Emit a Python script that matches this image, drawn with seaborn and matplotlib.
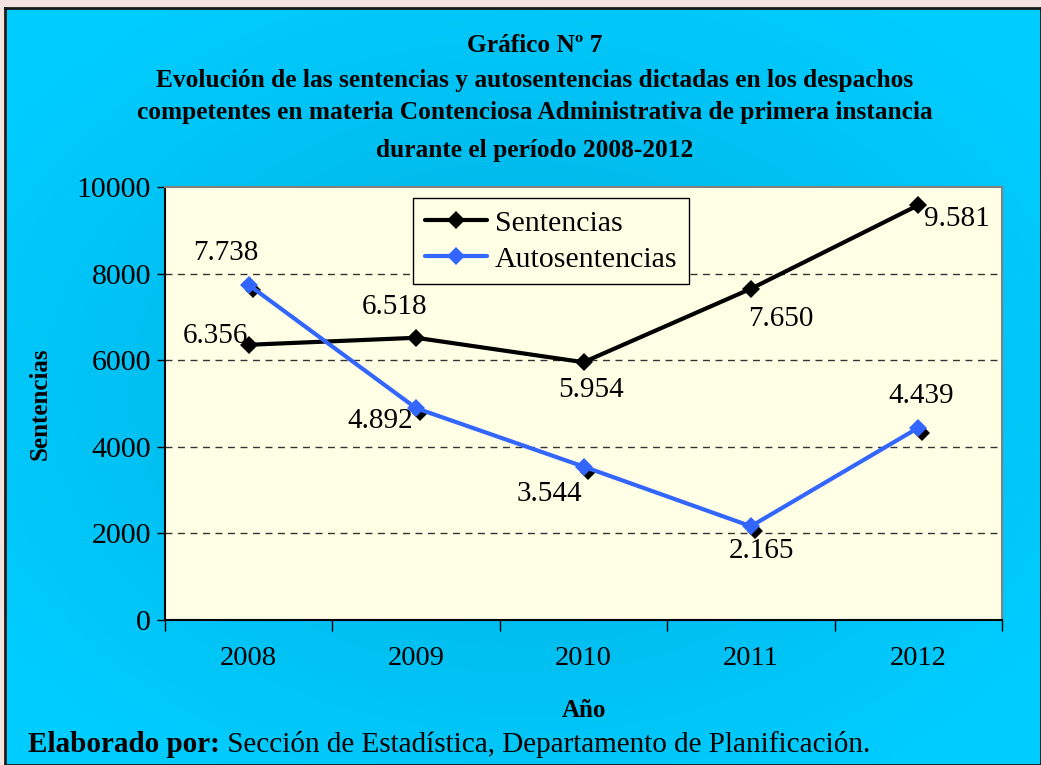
import numpy as np
import pandas as pd
import matplotlib
matplotlib.use("Agg")
import matplotlib.pyplot as plt
import matplotlib.transforms as mtransforms
import seaborn as sns

# ── DATA ─────────────────────────────────────────────
years = ["2008", "2009", "2010", "2011", "2012"]
sentencias = [6356, 6518, 5954, 7650, 9581]
autosentencias = [7738, 4892, 3544, 2165, 4439]

title_lines = [
    "Gráfico Nº 7",
    "Evolución de las sentencias y autosentencias dictadas en los despachos",
    "competentes en materia Contenciosa Administrativa de primera instancia",
    "durante el período 2008-2012",
]

# label offsets in pixels (dx, dy) relative to each point
off_sent = [(-33, 9), (-22, 31), (8, -28), (30, -30), (39, -14)]
off_auto = [(-23, 32), (-36, -13), (-34, -27), (11, -25), (3, 32)]

df = pd.DataFrame({
    "pos": list(range(len(years))) * 2,
    "valor": sentencias + autosentencias,
    "serie": ["Sentencias"] * len(years) + ["Autosentencias"] * len(years),
})

# ── STYLE ────────────────────────────────────────────
sns.set_style("ticks")
plt.rcParams["font.family"] = ["Liberation Serif", "DejaVu Serif"]
plt.rcParams.update({"text.color": "black", "axes.labelcolor": "black",
                     "xtick.color": "black", "ytick.color": "black"})
BLACK = "#000000"
BLUE = "#3366FF"
PLOT_BG = "#FFFFE6"

fig = plt.figure(figsize=(10.41, 7.65), dpi=100)
fig.patch.set_facecolor("#F3E4E2")

# cyan panel with a soft radial gradient
bg = fig.add_axes([5 / 1041, 0, 1 - 5 / 1041, (765 - 8) / 765])
yy, xx = np.mgrid[-1:1:200j, -1:1:300j]
r = np.clip(np.sqrt(xx ** 2 + yy ** 2) / 1.2, 0, 1)
c_in = np.array([0x00, 0xAE, 0xDE]) / 255
c_out = np.array([0x00, 0xCC, 0xFF]) / 255
img = c_in[None, None, :] * (1 - r[..., None]) + c_out[None, None, :] * r[..., None]
bg.imshow(img, aspect="auto", extent=[0, 1, 0, 1], interpolation="bilinear")
bg.set_xticks([]); bg.set_yticks([])
for s in bg.spines.values():
    s.set_color("#1a1a1a"); s.set_linewidth(2)

# ── MAIN CHART ───────────────────────────────────────
ax = fig.add_axes([165 / 1041, 1 - 620 / 765, 837 / 1041, 433 / 765])
ax.set_facecolor(PLOT_BG)

sns.lineplot(data=df, x="pos", y="valor", hue="serie", style="serie",
             palette={"Sentencias": BLACK, "Autosentencias": BLUE},
             markers={"Sentencias": "D", "Autosentencias": "D"},
             dashes=False, linewidth=3, markersize=9, markeredgewidth=0,
             ax=ax, zorder=4)

# dark shadow diamonds under the blue markers
shadow = ax.transData + mtransforms.ScaledTranslation(4 / 100, -5 / 100, fig.dpi_scale_trans)
ax.plot(range(len(years)), autosentencias, ls="none", marker="D", ms=8,
        color=BLACK, mew=0, transform=shadow, zorder=3)

def fmt(v):
    return f"{v:,}".replace(",", ".")

for i, (v, o) in enumerate(zip(sentencias, off_sent)):
    ax.annotate(fmt(v), (i, v), xytext=o, textcoords="offset pixels",
                ha="center", va="center", fontsize=21, zorder=6)
for i, (v, o) in enumerate(zip(autosentencias, off_auto)):
    ax.annotate(fmt(v), (i, v), xytext=o, textcoords="offset pixels",
                ha="center", va="center", fontsize=21, zorder=6)

ax.set_xlim(-0.5, len(years) - 0.5)
ax.set_ylim(0, 10000)
ax.set_yticks(range(0, 10001, 2000))
ax.tick_params(axis="y", labelsize=21.5, length=6, width=1, color=BLACK, pad=4)

# category boundaries as major ticks, labels on minor ticks
ax.set_xticks(np.arange(-0.5, len(years), 1.0))
ax.set_xticklabels([])
ax.set_xticks(range(len(years)), minor=True)
ax.set_xticklabels(years, minor=True)
ax.tick_params(axis="x", which="major", length=8, width=1, color=BLACK)
ax.tick_params(axis="x", which="minor", length=0, labelsize=20.5, pad=19)

for yv in range(2000, 10000, 2000):
    ax.axhline(yv, color="#333333", lw=1, ls=(0, (5, 4)), zorder=1)

ax.spines["left"].set_color(BLACK)
ax.spines["bottom"].set_color(BLACK)
ax.spines["top"].set_color("#808080")
ax.spines["right"].set_color("#808080")
for s in ax.spines.values():
    s.set_linewidth(1.5)

ax.set_xlabel("Año", fontsize=18, fontweight="bold", labelpad=20)
ax.set_ylabel("Sentencias", fontsize=18, fontweight="bold", labelpad=18)

leg = ax.legend(loc="upper left", bbox_to_anchor=(0.296, 0.975), borderaxespad=0,
                fontsize=21.5, frameon=True, fancybox=False, edgecolor=BLACK,
                facecolor=PLOT_BG, framealpha=1, handlelength=2.1, borderpad=0.4,
                labelspacing=0.3, handletextpad=0.25)
leg.get_frame().set_linewidth(1)

# ── TITLE & FOOTER ───────────────────────────────────
title_y = [45, 80, 113, 150]
for line, yp in zip(title_lines, title_y):
    fig.text(535 / 1041, 1 - yp / 765, line, ha="center", va="center",
             fontsize=18.3, fontweight="bold")

foot = fig.text(28 / 1041, 1 - 752 / 765, "Elaborado por:", ha="left",
                va="baseline", fontsize=21, fontweight="bold")
ax.annotate(" Sección de Estadística, Departamento de Planificación.",
            xy=(1, 0), xycoords=foot, va="bottom", ha="left", fontsize=21,
            annotation_clip=False)

fig.savefig("out.png", dpi=100)
